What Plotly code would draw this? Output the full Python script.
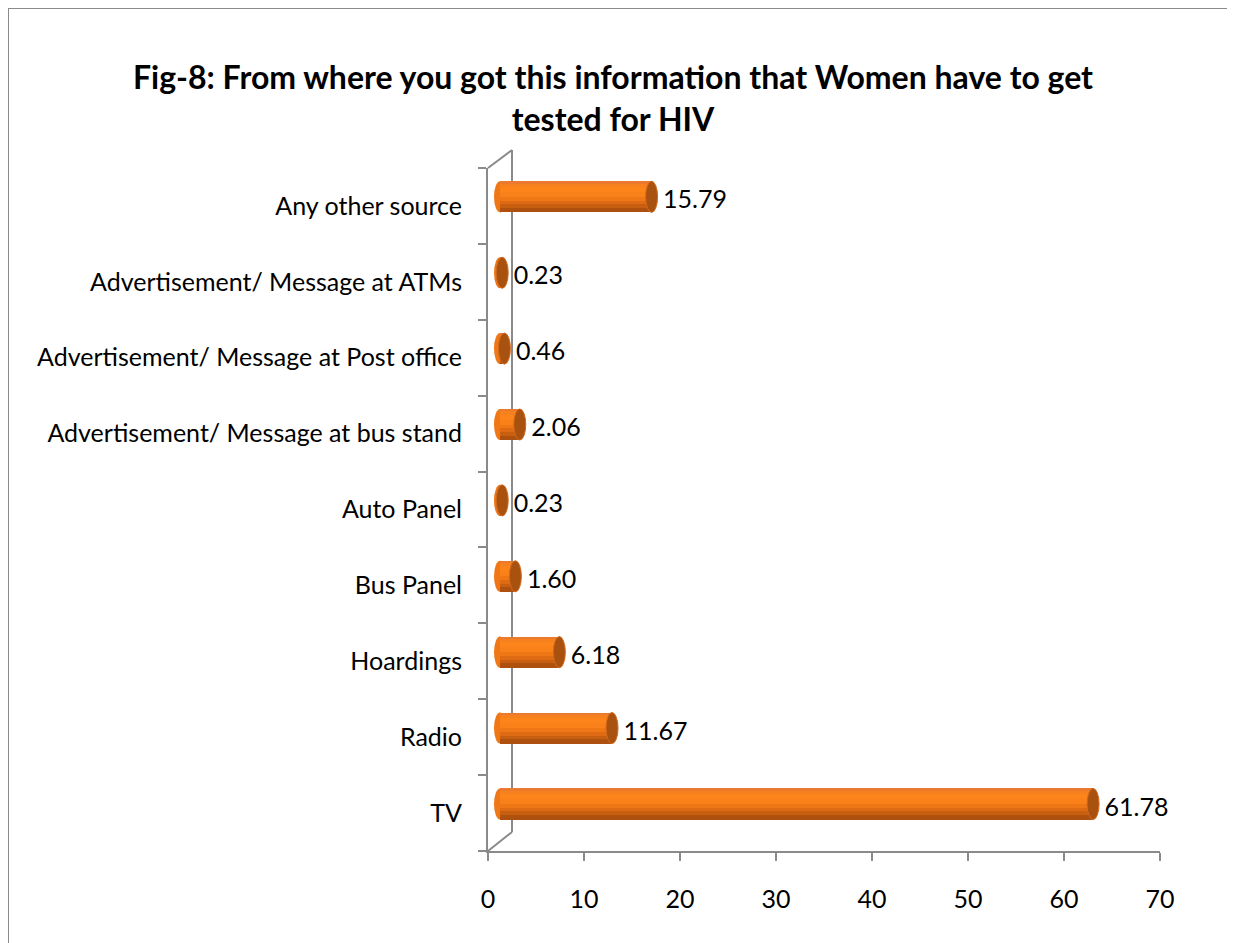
import plotly.graph_objects as go

categories = ["TV", "Radio", "Hoardings", "Bus Panel", "Auto Panel",
              "Advertisement/ Message at bus stand",
              "Advertisement/ Message at Post office",
              "Advertisement/ Message at ATMs", "Any other source"]
values = [61.78, 11.67, 6.18, 1.60, 0.23, 2.06, 0.46, 0.23, 15.79]
labels = ["61.78", "11.67", "6.18", "1.60", "0.23", "2.06", "0.46", "0.23", "15.79"]
x_ticks = [0, 10, 20, 30, 40, 50, 60, 70]
title = "Fig-8: From where you got this information that Women have to get<br>tested for HIV"

W, H = 1235, 943
OFF = 8  # page body margin
L, R, T, B = 488, 1160, 168, 851   # plot area in page pixels
FONT = "Lato"
GRAY = "#8A8A8A"

pos = list(range(len(categories)))
base = 1.25          # depth shift (x units)
shift = 0.12         # depth shift (category units)
thick = 0.41         # cylinder thickness
cap_rx = 0.625       # half width of the elliptical caps

bands = [(0.00, 0.08, "#EC7A2E"), (0.08, 0.18, "#F7801F"), (0.18, 0.34, "#FD841B"),
         (0.34, 0.50, "#FA8019"), (0.50, 0.62, "#F07716"), (0.62, 0.74, "#DE6B13"),
         (0.74, 0.86, "#C85F10"), (0.86, 1.00, "#AF510E")]

fig = go.Figure()
for a, b, col in bands:
    fig.add_trace(go.Bar(
        y=pos, x=values, base=base, orientation="h",
        offset=shift + thick / 2 - b * thick, width=(b - a) * thick,
        marker=dict(color=col, line=dict(width=0)),
        hoverinfo="skip", showlegend=False))

fig.add_trace(go.Scatter(
    y=[p + 0.05 for p in pos], x=[v + base + 1.2 for v in values],
    mode="text", text=labels, textposition="middle right", cliponaxis=False,
    textfont=dict(family=FONT, size=25, color="#000000"),
    hoverinfo="skip", showlegend=False))

shapes = []
for p, v in zip(pos, values):
    shapes.append(dict(type="circle", xref="x", yref="y", layer="below",
                       x0=base - cap_rx, x1=base + cap_rx,
                       y0=p + shift - thick / 2, y1=p + shift + thick / 2,
                       fillcolor="#F07716", line=dict(width=0)))
    shapes.append(dict(type="circle", xref="x", yref="y", layer="above",
                       x0=base + v - cap_rx, x1=base + v + cap_rx,
                       y0=p + shift - thick / 2, y1=p + shift + thick / 2,
                       fillcolor="#A9510F", line=dict(width=1, color="#D26A1F")))

def px(xp):
    return (xp - L) / (R - L)

def py(yp):
    return (B - yp) / (B - T)

wall = [((488, 168), (512, 150)), ((512, 150), (512, 832)), ((488, 851), (512, 832))]
for (x0, y0), (x1, y1) in wall:
    shapes.append(dict(type="line", xref="paper", yref="paper", layer="below",
                       x0=px(x0), y0=py(y0), x1=px(x1), y1=py(y1),
                       line=dict(color=GRAY, width=2)))
shapes.append(dict(type="rect", xref="paper", yref="paper", layer="below",
                   x0=px(8), y0=py(8), x1=px(1260), y1=py(970),
                   line=dict(color=GRAY, width=2), fillcolor="rgba(0,0,0,0)"))

fig.update_layout(
    width=W, height=H,
    margin=dict(l=L - OFF, r=W - (R - OFF), t=T - OFF, b=H - (B - OFF), pad=0),
    paper_bgcolor="white", plot_bgcolor="white",
    barmode="overlay", bargap=0,
    shapes=shapes,
    title=dict(text=title, x=(613 - OFF) / W, xanchor="center", xref="container",
               y=1 - 81 / H, yanchor="top", yref="container",
               font=dict(family=FONT, size=32, color="#000000", weight="bold")),
    font=dict(family=FONT, size=25, color="#000000"),
    xaxis=dict(range=[0, 70], tickvals=x_ticks, ticktext=[str(t) for t in x_ticks],
               showgrid=False, zeroline=False, showline=True, linecolor=GRAY, linewidth=2,
               ticks="outside", ticklen=8, tickwidth=2, tickcolor=GRAY,
               ticklabelstandoff=17, tickfont=dict(family=FONT, size=25)),
    yaxis=dict(range=[-0.5, len(categories) - 0.5], tickvals=pos, ticktext=categories,
               showgrid=False, zeroline=False, showline=True, linecolor=GRAY, linewidth=2,
               ticks="", ticklabelstandoff=19, tickfont=dict(family=FONT, size=25),
               minor=dict(tickmode="array", tickvals=[p - 0.5 for p in pos] + [len(pos) - 0.5],
                          ticks="outside", ticklen=8, tickwidth=2, tickcolor=GRAY)),
)

fig.write_html("out.html")
